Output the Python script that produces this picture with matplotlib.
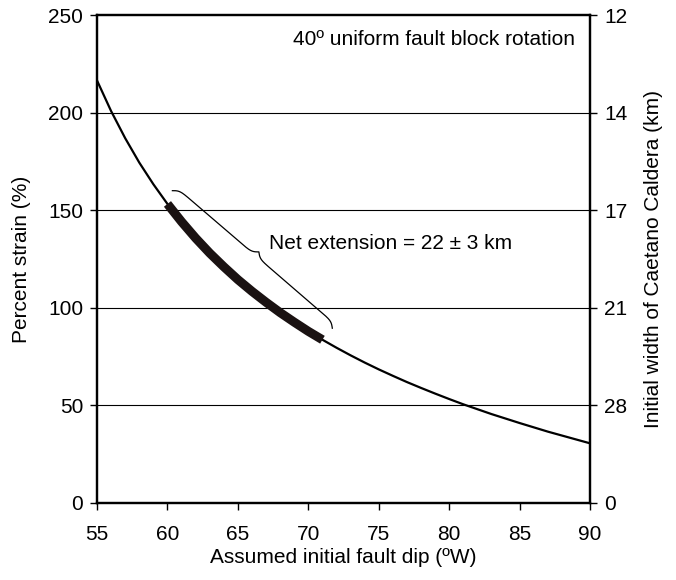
import numpy as np
import matplotlib.pyplot as plt

plt.rcParams['font.family'] = ['Liberation Sans', 'DejaVu Sans']
plt.rcParams['font.size'] = 15

# initial fault dip (deg W) vs percent strain
dip = [55, 56, 57, 58, 59, 60, 61, 62, 63, 64, 65, 66, 67, 68, 69, 70, 71, 72,
       73, 74, 75, 76, 77, 78, 79, 80, 81, 82, 83, 84, 85, 86, 87, 88, 89, 90]
strain = [216.5, 200.8, 186.9, 174.4, 163.3, 153.2, 144.1, 135.7, 128.0, 121.0,
          114.4, 108.4, 102.8, 97.5, 92.6, 87.9, 83.6, 79.5, 75.6, 71.9, 68.4,
          65.1, 61.9, 58.9, 56.0, 53.2, 50.5, 48.0, 45.5, 43.2, 40.9, 38.7,
          36.5, 34.5, 32.5, 30.5]
# preferred range (thick part)
best_lo, best_hi = 60, 71

right_ticks = [0, 50, 100, 150, 200, 250]
right_labels = ['0', '28', '21', '17', '14', '12']

fig, ax = plt.subplots(figsize=(6.76, 5.8), dpi=100)
fig.subplots_adjust(left=0.1435, right=0.873, top=0.974, bottom=0.133)

for y in [50, 100, 150, 200]:
    ax.axhline(y, color='black', lw=0.8, zorder=1)

dip_a = np.array(dip)
str_a = np.array(strain)
ax.plot(dip_a, str_a, color='black', lw=1.6, zorder=3)
m = (dip_a >= best_lo) & (dip_a <= best_hi)
ax.plot(dip_a[m], str_a[m], color='#1a1212', lw=6.5, solid_capstyle='butt', zorder=4)

ax.set_xlim(55, 90)
ax.set_ylim(0, 250)
ax.set_xticks(range(55, 91, 5))
ax.set_yticks(range(0, 251, 50))
ax.set_xlabel('Assumed initial fault dip (ºW)', labelpad=3)
ax.set_ylabel('Percent strain (%)', labelpad=12)
for s in ax.spines.values():
    s.set_linewidth(1.6)
ax.tick_params(direction='out', length=5, width=1.0, pad=5)
ax.tick_params(axis='x', pad=11)

ax2 = ax.twinx()
ax2.set_ylim(0, 250)
ax2.set_yticks(right_ticks)
ax2.set_yticklabels(right_labels)
ax2.set_ylabel('Initial width of Caetano Caldera (km)', labelpad=12)
ax2.tick_params(direction='out', length=5, width=1.0, pad=5)
for s in ax2.spines.values():
    s.set_linewidth(1.6)

ax.text(0.97, 0.949, '40º uniform fault block rotation', transform=ax.transAxes,
        ha='right', va='center')


# curly brace between two data points, drawn in display space
def brace(ax, p1, p2, amp=10, **kw):
    fig.canvas.draw()
    d1 = ax.transData.transform(p1)
    d2 = ax.transData.transform(p2)
    v = d2 - d1
    L = np.hypot(*v)
    u = v / L
    n = np.array([-u[1], u[0]])
    if n[0] + n[1] < 0:
        n = -n
    t = np.linspace(0, 0.5, 300)
    beta = 75.0
    half = 1 / (1 + np.exp(-beta * (t - t[0]))) + \
        1 / (1 + np.exp(-beta * (t - t[-1])))
    yy = np.concatenate([half, half[::-1]]) - 0.5
    xx = np.concatenate([t, 1 - t[::-1]])
    pts = d1[None, :] + np.outer(xx * L, u) + np.outer(yy * amp, n)
    data = ax.transData.inverted().transform(pts)
    ax.plot(data[:, 0], data[:, 1], **kw)


brace(ax, (60.35, 160), (71.7, 89.5), amp=10, color='black', lw=0.9, zorder=5)
ax.text(67.2, 132.7, 'Net extension = 22 ± 3 km', ha='left', va='center')

fig.savefig('out.png', dpi=100)
